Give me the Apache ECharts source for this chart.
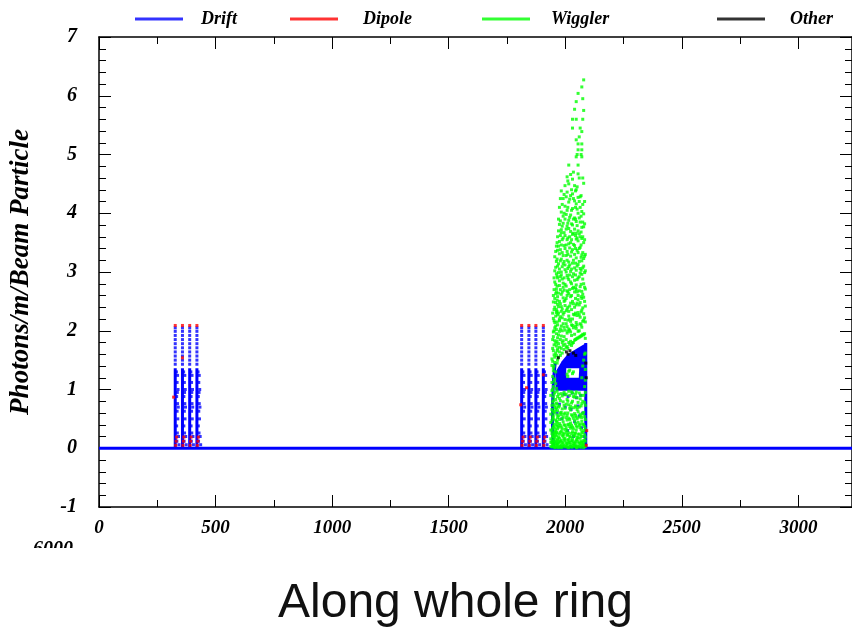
<!DOCTYPE html>
<html>
<head>
<meta charset="utf-8">
<script src="https://cdn.jsdelivr.net/npm/echarts@6/dist/echarts.min.js"></script>
<style>
html,body{margin:0;padding:0;background:#fff;}
#chart{width:852px;height:627px;}
</style>
</head>
<body>
<div id="chart"></div>
<script>
// ---------- data (metres along ring, photons/m/beam particle) ----------
const xMin = 0, xMax = 3230, xStep = 500;
const yMin = -1, yMax = 7, yStep = 1;
const seriesNames = ['Drift', 'Dipole', 'Wiggler', 'Other'];

// dipole/drift cell columns (x positions, m)
const dipoleColsArc1 = [327, 358, 389, 420];
const dipoleColsArc2 = [1813, 1844, 1874, 1906];
// drift: dense part top and dotted part values
const driftDenseTop = 1.36;
const driftDotYs = [1.43, 1.5, 1.57, 1.64, 1.71, 1.78, 1.85, 1.92, 1.99, 2.05];
const driftRaggedPts = [[7,0.12],[9,0.26],[6,0.38],[11,0.5],[8,0.63],[10,0.76],[6,0.88],[12,1.0],[8,1.12],[10,1.24],[14,0.2],[13,0.7],[16,0.06],[5,1.3],[9,0.95]];
// dipole values
const dipoleTopY = 2.09;
const dipoleBaseYs = [0.05, 0.12, 0.19];
const dipoleStray = [[320,0.87],[358,1.54],[1809,0.74],[1834,1.03],[1906,1.25],[2090,0.05],[2092,0.3]];

// wiggler section: drift blob outline, hole, left edge, right edge, dots
const wigBlueBlob = [[1958,0.98],[1958,1.3],[1985,1.48],[2010,1.6],[2050,1.7],[2090,1.79],[2090,0.98]];
const wigBlueHole = [[2005,1.2],[2058,1.2],[2060,1.36],[2004,1.36]];
const wigBlueLeft = [[1957,1.45],[1950,1.2],[1946,0.8],[1945,0.4],[1949,0.03]];
const wigBlueRight = [[2088,0],[2088,1.79]];
const wigBlueDots = [[1995,0.92],[2012,0.88],[2030,0.94],[2048,0.86],[2066,0.9],[2000,0.7],[2025,0.66],[2055,0.72],[2075,0.6],[1985,0.5],[2040,0.45],[2070,0.35],[2010,0.3],[2082,0.2],[1975,0.75],[2060,0.55],[1965,0.6],[2035,0.2]];

// wiggler photons: columns of [x, [y values]]
const wigglerCols = [
  [1938, [0.03,0.1,0.16,0.31,0.44,0.58,0.9]],
  [1943, [0.02,0.09,0.13,0.25,0.3,0.47,0.66,0.73,0.98,1.12,1.41,1.52]],
  [1946, [0.05,0.11,0.2,0.34,0.52,0.63,0.79,1.0,1.22,1.48,1.7,1.85,2.3]],
  [1949, [0.04,0.08,0.19,0.23,0.37,0.5,0.55,0.81,0.87,1.05,1.32,1.37,1.66,1.9,1.98,2.21,2.49,2.6]],
  [1952, [0.03,0.14,0.26,0.41,0.6,0.74,0.92,1.15,1.4,1.59,1.76,2.0,2.17,2.36,2.7,2.9]],
  [1955, [0.01,0.12,0.18,0.28,0.35,0.62,0.7,0.95,1.18,1.46,1.55,1.83,2.05,2.14,2.4,2.55,2.83,3.02,3.26]],
  [1959, [0.02,0.08,0.23,0.31,0.48,0.66,0.83,1.1,1.3,1.62,1.79,2.08,2.25,2.48,2.63,2.79,3.08,3.35]],
  [1962, [0.05,0.1,0.21,0.27,0.4,0.46,0.69,0.77,1.02,1.58,1.74,1.95,2.02,2.31,2.36,2.66,2.71,2.97,3.18,3.44]],
  [1965, [0.06,0.13,0.26,0.44,0.57,0.75,0.97,1.45,1.66,1.82,2.15,2.33,2.52,2.76,2.93,3.22,3.5]],
  [1967, [0.02,0.07,0.15,0.33,0.38,0.52,0.64,0.88,1.5,1.69,1.88,2.1,2.27,2.45,2.58,2.9,3.1,3.37,3.6]],
  [1971, [0.01,0.09,0.19,0.36,0.55,0.7,0.92,1.55,1.78,1.93,2.3,2.41,2.64,2.99,3.14,3.44,3.7,3.9]],
  [1975, [0.03,0.11,0.17,0.24,0.42,0.49,0.72,0.85,1.64,1.72,1.99,2.17,2.2,2.5,2.77,2.85,3.05,3.31,3.52,3.81,4.1]],
  [1979, [0.04,0.12,0.27,0.39,0.6,0.81,1.58,1.85,2.03,2.24,2.46,2.7,2.92,3.19,3.38,3.62,3.87,4.25]],
  [1983, [0.01,0.06,0.14,0.29,0.36,0.57,0.61,0.93,1.7,1.91,2.08,2.33,2.41,2.62,2.95,3.0,3.22,3.46,3.67,3.72,4.02,4.38]],
  [1987, [0.02,0.1,0.22,0.33,0.5,0.67,0.89,1.62,1.8,2.0,2.22,2.37,2.66,2.88,3.09,3.33,3.55,3.78,4.15]],
  [1991, [0.04,0.09,0.2,0.26,0.45,0.53,0.79,1.75,1.83,2.12,2.28,2.56,2.74,2.81,3.14,3.28,3.58,3.83,3.95,4.25]],
  [1995, [0.05,0.15,0.24,0.4,0.58,0.73,0.95,1.68,1.9,2.06,2.31,2.5,2.69,2.9,3.18,3.45,3.67,4.0,4.32]],
  [1999, [0.02,0.13,0.17,0.32,0.39,0.6,0.68,0.91,1.77,2.01,2.19,2.43,2.52,2.79,3.04,3.12,3.4,3.62,3.9,4.12,4.47]],
  [2004, [0.03,0.09,0.27,0.35,0.52,0.75,0.92,1.72,1.85,2.12,2.34,2.55,2.76,3.0,3.28,3.46,3.73,3.98,4.28]],
  [2008, [0.05,0.08,0.22,0.3,0.48,0.56,0.83,1.26,1.73,1.96,2.07,2.37,2.6,2.68,2.94,3.2,3.35,3.55,3.78,4.05,4.36,4.62]],
  [2011, [0.01,0.14,0.23,0.4,0.6,0.8,1.22,1.7,1.99,2.18,2.4,2.66,2.9,3.06,3.3,3.58,3.83,4.1,4.55]],
  [2015, [0.01,0.1,0.15,0.26,0.41,0.51,0.74,0.97,1.31,1.8,2.03,2.25,2.33,2.63,2.87,3.09,3.17,3.48,3.74,3.88,4.19,4.5,4.82]],
  [2019, [0.04,0.1,0.2,0.37,0.49,0.68,0.9,1.33,1.77,2.01,2.2,2.42,2.7,2.95,3.12,3.41,3.6,3.93,4.24]],
  [2023, [0.03,0.07,0.19,0.34,0.43,0.65,0.71,1.82,1.98,2.16,2.47,2.58,2.83,3.01,3.27,3.5,3.69,3.97,4.3,4.66]],
  [2027, [0.02,0.13,0.25,0.39,0.57,0.77,0.96,1.75,1.92,2.1,2.36,2.6,2.8,3.05,3.34,3.55,3.82,4.05,4.4]],
  [2031, [0.02,0.12,0.16,0.28,0.36,0.55,0.8,0.94,1.27,1.79,2.09,2.2,2.5,2.72,2.92,3.15,3.38,3.64,3.8,4.08,4.33,4.58,5.45,5.6]],
  [2035, [0.05,0.08,0.21,0.33,0.51,0.69,0.88,1.3,1.8,2.05,2.28,2.46,2.74,2.97,3.2,3.47,3.66,3.9,4.25,4.7]],
  [2040, [0.04,0.09,0.21,0.25,0.47,0.59,0.87,1.84,1.94,2.27,2.4,2.66,2.86,3.07,3.3,3.45,3.73,3.92,4.21,4.47,5.77]],
  [2044, [0.03,0.11,0.26,0.42,0.56,0.72,0.92,1.85,2.08,2.3,2.55,2.73,2.95,3.15,3.4,3.62,3.9,4.1,4.38]],
  [2047, [0.01,0.06,0.14,0.31,0.38,0.53,0.7,0.96,1.86,2.04,2.14,2.44,2.7,2.78,3.03,3.24,3.56,3.66,3.86,4.16,4.4,4.96,5.25,5.6,5.9]],
  [2051, [0.01,0.15,0.19,0.36,0.5,0.66,0.86,1.87,2.1,2.26,2.47,2.66,2.87,3.1,3.37,3.58,3.79,4.07,4.45,5.0]],
  [2055, [0.03,0.11,0.18,0.24,0.44,0.62,0.78,1.88,1.99,2.31,2.53,2.6,2.9,3.13,3.33,3.53,3.7,4.0,4.27,4.67,4.82,5.08,5.18,6.04]],
  [2060, [0.04,0.09,0.24,0.39,0.53,0.7,0.94,1.89,2.0,2.27,2.44,2.68,2.92,3.18,3.4,3.65,3.92,4.2,4.6,5.3]],
  [2064, [0.02,0.08,0.17,0.35,0.41,0.58,0.84,1.9,2.12,2.23,2.48,2.75,2.98,3.06,3.42,3.6,3.85,4.1,4.28,5.45]],
  [2068, [0.02,0.12,0.22,0.32,0.55,0.72,0.9,1.91,2.1,2.32,2.58,2.79,3.03,3.25,3.46,3.68,3.95,4.3,5.0]],
  [2071, [0.05,0.1,0.2,0.27,0.46,0.52,0.76,1.2,1.92,2.06,2.35,2.55,2.67,2.96,3.19,3.29,3.57,3.76,4.03,4.96,5.08,5.18,5.39,6.15]],
  [2075, [0.05,0.1,0.27,0.41,0.59,0.8,1.4,1.94,2.16,2.39,2.62,2.88,3.07,3.33,3.6,3.85,4.15,4.6,5.6,5.95]],
  [2079, [0.01,0.07,0.13,0.3,0.4,0.61,0.9,1.5,1.93,2.18,2.29,2.57,2.8,3.1,3.23,3.5,3.77,3.99,4.51,5.75,6.27]],
  [2083, [0.03,0.14,0.23,0.37,0.54,0.78,1.05,1.6,1.95,2.22,2.5,2.74,2.99,3.27,3.55,3.82,4.2]],
  [2086, [0.03,0.12,0.19,0.33,0.49,0.73,0.95,1.16,1.34,1.62,1.87,2.15,2.42,2.71,3.02,3.3]]
];

// other (black) points
const otherPts = [[1970,1.54],[2005,1.64],[2012,1.6],[2020,1.66],[2035,1.62],[2045,1.58],[2088,1.45],[2090,1.2]];

// ---------- build ----------
const BLUE = '#0000ff', RED = '#ff0000', GREEN = '#00ff00', BLACK = '#000000';
const serif = '"Liberation Serif", "Times New Roman", serif';
const dipoleCols = dipoleColsArc1.concat(dipoleColsArc2);

const driftDots = [];
dipoleCols.forEach(c => {
  driftDotYs.forEach(y => driftDots.push([c, y]));
  driftRaggedPts.forEach(p => driftDots.push([c + p[0], p[1]]));
});
wigBlueDots.forEach(p => driftDots.push(p));

const driftLines = dipoleCols.map(c => ({ coords: [[c, 0], [c, driftDenseTop]] }));
driftLines.push({ coords: wigBlueLeft });
driftLines.push({ coords: wigBlueRight });

const dipolePts = [];
dipoleCols.forEach(c => {
  dipolePts.push([c, dipoleTopY]);
  dipoleBaseYs.forEach((y, i) => dipolePts.push([c + 2 + i * 2, y]));
});
dipoleStray.forEach(p => dipolePts.push(p));

const wigglerPts = [];
wigglerCols.forEach(col => col[1].forEach(y => wigglerPts.push([col[0], y])));

const chart = echarts.init(document.getElementById('chart'), null, { renderer: 'canvas' });

const labelStyle = { fontFamily: serif, fontStyle: 'italic', fontWeight: 'bold', color: '#000' };
function legendFor(name, left, color, pad) {
  return {
    data: [{ name: name, itemStyle: { color: color } }],
    left: left, top: 5, icon: 'rect', itemWidth: 48, itemHeight: 3,
    selectedMode: false,
    textStyle: Object.assign({ fontSize: 18, padding: [0, 0, 0, pad] }, labelStyle)
  };
}

const axisLineStyle = { color: '#000', width: 1.5 };
function frameAxis(extra) {
  return Object.assign({
    type: 'value',
    axisLine: { onZero: false, lineStyle: axisLineStyle },
    axisTick: { inside: true, length: 12, lineStyle: { color: '#000' } },
    splitLine: { show: false }
  }, extra);
}
const option = {
  animation: false,
  backgroundColor: '#fff',
  title: {
    text: 'Along whole ring',
    left: 273, top: 575,
    textStyle: { fontFamily: '"Liberation Sans", Arial, sans-serif', fontSize: 48, fontWeight: 'normal', color: '#111' }
  },
  legend: [
    legendFor('Drift', 130, BLUE, 13),
    legendFor('Dipole', 285, RED, 20),
    legendFor('Wiggler', 477, GREEN, 16),
    legendFor('Other', 712, BLACK, 20)
  ],
  grid: { left: 97, right: -1, top: 37, bottom: 120, containLabel: false },
  xAxis: [
    frameAxis({
      min: xMin, max: xMax, interval: xStep, position: 'bottom',
      minorTick: { show: true, splitNumber: 2, length: 7, lineStyle: { color: '#000' } },
      axisLabel: Object.assign({ fontSize: 19, margin: 12, showMaxLabel: false,
        formatter: v => (v % xStep === 0 ? String(v) : '') }, labelStyle)
    }),
    frameAxis({
      min: xMin, max: xMax, interval: xStep, position: 'top',
      minorTick: { show: true, splitNumber: 2, length: 7, lineStyle: { color: '#000' } },
      axisLabel: { show: false }
    })
  ],
  yAxis: [
    frameAxis({
      min: yMin, max: yMax, interval: yStep, position: 'left',
      name: 'Photons/m/Beam Particle', nameLocation: 'middle', nameGap: 64,
      nameTextStyle: Object.assign({ fontSize: 27 }, labelStyle),
      minorTick: { show: true, splitNumber: 5, length: 7, lineStyle: { color: '#000' } },
      axisLabel: Object.assign({ fontSize: 20, margin: 22 }, labelStyle)
    }),
    frameAxis({
      min: yMin, max: yMax, interval: yStep, position: 'right',
      minorTick: { show: true, splitNumber: 5, length: 7, lineStyle: { color: '#000' } },
      axisLabel: { show: false }
    })
  ],
  series: [
    {
      name: 'Drift', type: 'scatter', z: 3, symbol: 'rect', symbolSize: 3,
      itemStyle: { color: BLUE }, data: driftDots, silent: true
    },
    {
      name: 'Drift', type: 'lines', coordinateSystem: 'cartesian2d', polyline: true, z: 3,
      lineStyle: { color: BLUE, width: 3, opacity: 1 }, data: driftLines, silent: true
    },
    {
      name: 'Drift', type: 'lines', coordinateSystem: 'cartesian2d', polyline: true, z: 2,
      lineStyle: { color: BLUE, width: 3, opacity: 1 },
      data: [{ coords: [[xMin, 0], [xMax, 0]] }], silent: true
    },
    {
      name: 'Drift', type: 'custom', z: 2, silent: true,
      data: [[2020, 1.4]],
      renderItem: function (params, api) {
        const outer = wigBlueBlob.map(p => api.coord(p));
        const hole = wigBlueHole.map(p => api.coord(p));
        return { type: 'group', children: [
          { type: 'polygon', shape: { points: outer }, style: { fill: BLUE } },
          { type: 'polygon', shape: { points: hole }, style: { fill: '#fff' } }
        ] };
      }
    },
    {
      name: 'Wiggler', type: 'scatter', z: 4, symbol: 'rect', symbolSize: 3,
      itemStyle: { color: GREEN }, data: wigglerPts, silent: true
    },
    {
      name: 'Dipole', type: 'scatter', z: 5, symbol: 'rect', symbolSize: 3,
      itemStyle: { color: RED }, data: dipolePts, silent: true
    },
    {
      name: 'Other', type: 'scatter', z: 5, symbol: 'rect', symbolSize: 3,
      itemStyle: { color: BLACK }, data: otherPts, silent: true
    }
  ],
  graphic: [
    { type: 'text', left: 33, top: 540, z: 10,
      style: { text: '6000', font: 'italic bold 20px ' + serif, fill: '#000' } },
    { type: 'rect', left: 20, top: 548, z: 11, shape: { width: 80, height: 20 }, style: { fill: '#fff' } }
  ]
};
chart.setOption(option);
</script>
</body>
</html>
